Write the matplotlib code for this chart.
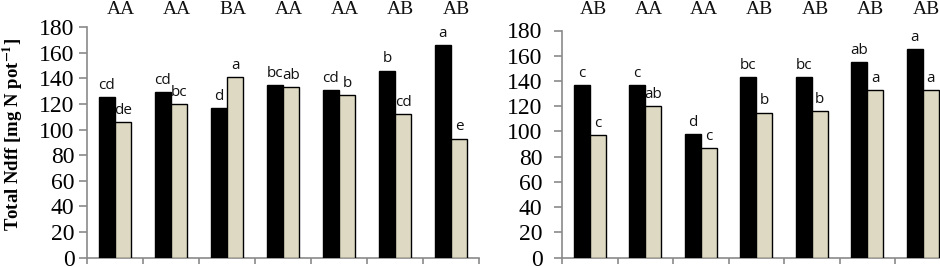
import matplotlib
matplotlib.use("Agg")
import matplotlib.pyplot as plt
import matplotlib.transforms as mtransforms
import numpy as np

plt.rcParams["mathtext.fontset"] = "stix"

# ---- data ----
left_black = [125, 129, 117, 135, 131, 146, 166]
left_beige = [106, 120, 141, 133, 127, 112, 93]
left_black_letters = ["cd", "cd", "d", "bc", "cd", "b", "a"]
left_beige_letters = ["de", "bc", "a", "ab", "b", "cd", "e"]
left_group_letters = ["AA", "AA", "BA", "AA", "AA", "AB", "AB"]

right_black = [137, 137, 98, 143, 143, 155, 165]
right_beige = [97, 120, 87, 115, 116, 133, 133]
right_black_letters = ["c", "c", "d", "bc", "bc", "ab", "a"]
right_beige_letters = ["c", "ab", "c", "b", "b", "a", "a"]
right_group_letters = ["AB", "AA", "AA", "AB", "AB", "AB", "AB"]

y_ticks = [0, 20, 40, 60, 80, 100, 120, 140, 160, 180]
y_label = "Total Ndff [mg N pot$^{\\mathbf{-1}}$]"

BLACK = "#000000"
BEIGE = "#DDD9C3"
SPINE = "#8a8a8a"

W, H = 940, 267
fig = plt.figure(figsize=(W / 100, H / 100), dpi=100)

def make_axes(x0, x1, y_top, y_bot):
    return fig.add_axes([x0 / W, 1 - y_bot / H, (x1 - x0) / W, (y_bot - y_top) / H])

axL = make_axes(87, 479, 27, 257.7)
axR = make_axes(562, 950.5, 30.5, 257.7)

def draw(ax, black, beige, bl, bel, gl, pad, label_off):
    n = len(black)
    x = np.arange(n)
    w = 0.29
    ax.bar(x - w / 2, black, w, color=BLACK, edgecolor=BLACK, linewidth=1, zorder=3)
    ax.bar(x + w / 2, beige, w, color=BEIGE, edgecolor=BLACK, linewidth=1, zorder=3)
    for i in range(n):
        ax.annotate(bl[i], (x[i] - w / 2, black[i]), xytext=(0, 3), textcoords="offset points",
                    ha="center", va="bottom", fontsize=11, family="Open Sans", color="#111111",
                    annotation_clip=False)
        ax.annotate(bel[i], (x[i] + w / 2, beige[i]), xytext=(0, 3), textcoords="offset points",
                    ha="center", va="bottom", fontsize=11, family="Open Sans", color="#111111",
                    annotation_clip=False)
    trans = mtransforms.blended_transform_factory(ax.transData, fig.transFigure)
    for i in range(n):
        ax.text(x[i] + label_off, 1 - 13.5 / H, gl[i], transform=trans, ha="center", va="baseline",
                fontsize=14, family="Liberation Serif", color="#111111", clip_on=False)
    ax.set_xlim(-0.5, n - 0.5)
    ax.set_ylim(0, 180)
    ax.set_yticks(y_ticks)
    ax.set_yticklabels([str(t) for t in y_ticks], family="Liberation Serif", fontsize=17)
    ax.set_xticks(np.arange(n + 1) - 0.5)
    ax.set_xticklabels([])
    for s in ["top", "right"]:
        ax.spines[s].set_visible(False)
    for s in ["left", "bottom"]:
        ax.spines[s].set_color(SPINE)
        ax.spines[s].set_linewidth(1.2)
    ax.tick_params(axis="y", direction="out", length=6, width=1.2, color=SPINE, pad=pad)
    ax.tick_params(axis="x", direction="out", length=4, width=1.2, color=SPINE)
    ax.set_facecolor("none")

draw(axL, left_black, left_beige, left_black_letters, left_beige_letters, left_group_letters, 3, 0.1)
draw(axR, right_black, right_beige, right_black_letters, right_beige_letters, right_group_letters, 8, 0.06)

fig.text(1 / W, 1 - 134 / H, y_label, rotation=90, ha="left", va="center",
         fontsize=13.5, family="Liberation Serif", fontweight="bold")

fig.savefig("out.png", dpi=100)
